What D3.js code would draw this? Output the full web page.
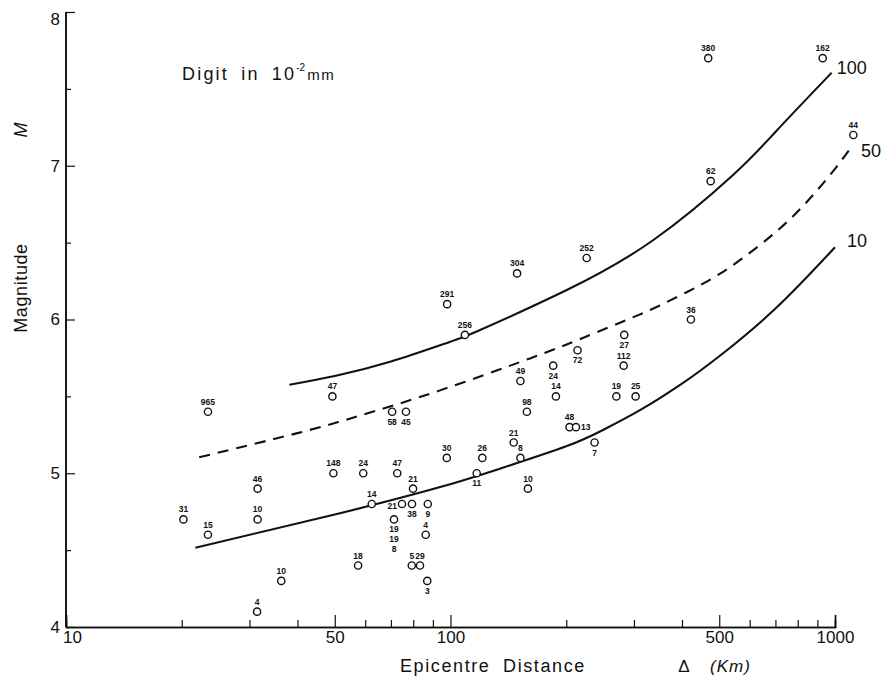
<!DOCTYPE html>
<html>
<head>
<meta charset="utf-8">
<script src="https://cdn.jsdelivr.net/npm/d3@7/dist/d3.min.js"></script>
<style>
  html, body { margin: 0; padding: 0; background: #fff; }
  svg { display: block; }
  text { font-family: "Liberation Sans Narrow", "Liberation Sans", "DejaVu Sans Condensed", sans-serif; fill: #111; }
</style>
</head>
<body>
<svg id="chart" width="889" height="689"></svg>
<script>
// ---- data ----
const distances = [23.4, 49.3, 49.6, 31.5, 20.2, 31.5, 23.4, 36.3, 31.4, 57.5,
  59.3, 72.7, 97.8, 121, 117, 79.9, 62.4, 74.8, 79.4, 87.3, 71.3, 86.2, 79.3, 83.3, 87,
  152, 185, 188, 158, 204, 212, 146, 152, 237, 270, 303, 282, 159,
  149, 226, 283, 214, 422, 468, 929, 1116, 475, 98, 109, 70.5, 76.6];
const magnitudes = [5.4, 5.5, 5.0, 4.9, 4.7, 4.7, 4.6, 4.3, 4.1, 4.4,
  5.0, 5.0, 5.1, 5.1, 5.0, 4.9, 4.8, 4.8, 4.8, 4.8, 4.7, 4.6, 4.4, 4.4, 4.3,
  5.6, 5.7, 5.5, 5.4, 5.3, 5.3, 5.2, 5.1, 5.2, 5.5, 5.5, 5.7, 4.9,
  6.3, 6.4, 5.9, 5.8, 6.0, 7.7, 7.7, 7.2, 6.9, 6.1, 5.9, 5.4, 5.4];
const digits = ["965", "47", "148", "46", "31", "10", "15", "10", "4", "18",
  "24", "47", "30", "26", "11", "21", "14", "21", "38", "9", "19|19|8", "4", "5", "29", "3",
  "49", "24", "14", "98", "48", "13", "21", "8", "7", "19", "25", "112", "10",
  "304", "252", "27", "72", "36", "380", "162", "44", "62", "291", "256", "58", "45"];
// label side: a = above, b = below, l = left, r = right
const labelSide = ["a","a","a","a","a","a","a","a","a","a",
  "a","a","a","a","b","a","a","l","b","b","b","a","a","a","b",
  "a","b","a","a","a","r","a","a","b","a","a","a","a",
  "a","a","b","b","a","a","a","a","a","a","a","b","b"];

const curve100Dist = [38.1, 50, 70, 100, 119, 200, 337, 543, 700, 980];
const curve100Mag  = [5.576, 5.633, 5.727, 5.856, 5.93, 6.19, 6.517, 6.94, 7.22, 7.605];
const curve50Dist  = [22.2, 40, 58.2, 93.9, 161, 217, 300, 350, 445, 550, 700, 850, 1000, 1094];
const curve50Mag   = [5.104, 5.261, 5.375, 5.539, 5.747, 5.872, 6.017, 6.091, 6.222, 6.364, 6.567, 6.772, 6.98, 7.11];
const curve10Dist  = [21.7, 51.6, 94, 134.5, 200, 250, 311, 400, 500, 700, 1000];
const curve10Mag   = [4.516, 4.74, 4.91, 5.03, 5.175, 5.283, 5.41, 5.583, 5.761, 6.071, 6.47];
const curveNames   = ["100", "50", "10"];

const xMajorTicks = [10, 50, 100, 500, 1000];
const xMinorTicks = [20, 30, 40, 60, 70, 80, 90, 200, 300, 400, 600, 700, 800, 900];
const yMajorTicks = [4, 5, 6, 7, 8];
const yMinorTicks = [4.5, 5.5, 6.5, 7.5];

// ---- drawing ----
const svg = d3.select("#chart");
const x = d3.scaleLog().domain([10, 1000]).range([66, 835]);
const y = d3.scaleLinear().domain([4, 8]).range([627, 12]);
const FONT = '"Liberation Sans Narrow", "Liberation Sans", sans-serif';

// axes
const gx = svg.append("g").attr("transform", `translate(0,${y(4)})`);
gx.call(d3.axisBottom(x).tickValues(xMajorTicks).tickSize(-12).tickPadding(4)
  .tickFormat(d3.format("d")));
gx.append("g").call(d3.axisBottom(x).tickValues(xMinorTicks).tickSize(-7).tickFormat(""));
gx.selectAll(".domain").attr("stroke", "#111").attr("stroke-width", 1.6);
gx.selectAll("line").attr("stroke", "#111").attr("stroke-width", 1.2);
gx.selectAll("text").attr("font-size", 17).attr("fill", "#111").style("font-family", FONT);
gx.selectAll("g.tick").filter(d => d === 10).select("text").attr("dx", 6);

const gy = svg.append("g").attr("transform", `translate(${x(10)},0)`);
gy.call(d3.axisLeft(y).tickValues(yMajorTicks).tickSize(-9).tickPadding(6)
  .tickFormat(d3.format("d")));
gy.append("g").call(d3.axisLeft(y).tickValues(yMinorTicks).tickSize(-5).tickFormat(""));
gy.selectAll(".domain").attr("stroke", "#111").attr("stroke-width", 1.6);
gy.selectAll("line").attr("stroke", "#111").attr("stroke-width", 1.2);
gy.selectAll("text").attr("font-size", 17).attr("fill", "#111").style("font-family", FONT);
gy.selectAll("g.tick").filter(d => d === 8).select("text").attr("dy", "0.75em");
gy.selectAll(".domain").attr("d", `M0,${y(4)}V${y(8)}`);

// curves
const line = d3.line().x(d => x(d[0])).y(d => y(d[1])).curve(d3.curveNatural);
const curves = [
  { d: d3.zip(curve100Dist, curve100Mag), dash: null, dx: 5, dy: 1 },
  { d: d3.zip(curve50Dist, curve50Mag), dash: "11,8", dx: 11, dy: 8 },
  { d: d3.zip(curve10Dist, curve10Mag), dash: null, dx: 12, dy: 0 }
];
curves.forEach((c, i) => {
  svg.append("path").attr("d", line(c.d)).attr("fill", "none")
    .attr("stroke", "#111").attr("stroke-width", 2.1)
    .attr("stroke-dasharray", c.dash);
  const last = c.d[c.d.length - 1];
  svg.append("text").attr("x", x(last[0]) + c.dx).attr("y", y(last[1]) + c.dy)
    .attr("font-size", 18).text(curveNames[i]);
});

// points
const pts = distances.map((d, i) => ({ d, m: magnitudes[i], lab: digits[i], side: labelSide[i] }));
const gp = svg.append("g");
gp.selectAll("circle").data(pts).join("circle")
  .attr("cx", p => x(p.d)).attr("cy", p => y(p.m)).attr("r", 3.6)
  .attr("fill", "#fff").attr("stroke", "#111").attr("stroke-width", 1.4);

pts.forEach(p => {
  const cx = x(p.d), cy = y(p.m);
  const lines = p.lab.split("|");
  const t = gp.append("text").attr("font-size", 8.5).attr("font-weight", "bold");
  let tx = cx, ty = cy - 7, anchor = "middle";
  if (p.side === "b") ty = cy + 13;
  if (p.side === "l") { tx = cx - 5; ty = cy + 5; anchor = "end"; }
  if (p.side === "r") { tx = cx + 5; ty = cy + 3; anchor = "start"; }
  t.attr("text-anchor", anchor);
  lines.forEach((ln, k) => {
    t.append("tspan").attr("x", tx).attr("y", ty + k * 10).text(ln);
  });
});

// texts
const title = svg.append("text").attr("x", 182).attr("y", 80).attr("font-size", 18)
  .style("letter-spacing", "2.2px").style("word-spacing", "5px");
title.append("tspan").text("Digit in 10");
title.append("tspan").attr("dx", 0).attr("dy", -9).attr("font-size", 10)
  .style("letter-spacing", "0px").text("-2");
title.append("tspan").attr("dx", 2).attr("dy", 9).attr("font-size", 15)
  .style("letter-spacing", "1.5px").text("mm");

svg.append("text").attr("transform", "translate(27,288) rotate(-90)")
  .attr("text-anchor", "middle").attr("font-size", 18)
  .style("letter-spacing", "0.6px").text("Magnitude");
svg.append("text").attr("transform", "translate(27,130) rotate(-90)")
  .attr("text-anchor", "middle").attr("font-size", 18).attr("font-style", "italic").text("M");

svg.append("text").attr("x", 400).attr("y", 672).attr("font-size", 18)
  .style("letter-spacing", "1.6px").style("word-spacing", "6px").text("Epicentre Distance");
svg.append("text").attr("x", 684).attr("y", 672).attr("text-anchor", "middle").attr("font-size", 17).text("Δ");
svg.append("text").attr("x", 710).attr("y", 672).attr("font-size", 17).attr("font-style", "italic")
  .style("letter-spacing", "1px").text("(Km)");
</script>
</body>
</html>
